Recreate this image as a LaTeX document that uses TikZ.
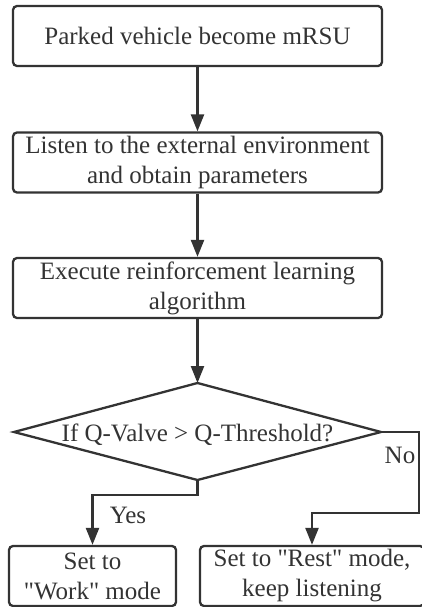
\documentclass[tikz,border=0pt]{standalone}
\usepackage{fontspec}
\setmainfont{Liberation Serif}[Ligatures=TeXOff]
\usetikzlibrary{arrows.meta}
\definecolor{ink}{HTML}{333333}
\begin{document}
\begin{tikzpicture}[x=1pt,y=-1pt,
  line/.style={draw=ink, line width=2.3pt},
  txt/.style={font=\fontsize{25}{30}\selectfont, text=ink},
  box/.style={line, txt, rounded corners=4pt, minimum height=60pt, align=center, inner sep=0pt},
  arr/.style={line, -{Triangle[length=17pt,width=13pt]}}]
\useasboundingbox (0,0) rectangle (422,607);
\node[box, minimum width=369pt] (b1) at (197.5,36) {Parked vehicle become mRSU};
\node[box, minimum width=369pt] (b2) at (197.5,162.5) {Listen to the external environment\\and obtain parameters};
\node[box, minimum width=369pt] (b3) at (197.5,288) {Execute reinforcement learning\\algorithm};
\coordinate (dt) at (197.5,383);
\coordinate (dr) at (381,432);
\coordinate (db) at (197.5,480);
\coordinate (dl) at (14,432);
\draw[line] (dt) -- (dr) -- (db) -- (dl) -- cycle;
\node[txt, anchor=base] (q) at (197.5,441) {If Q-Valve > Q-Threshold?};
\node[box, minimum width=167pt] (b4) at (92.5,576) {Set to\\"Work" mode};
\node[box, minimum width=224pt] (b5) at (312,576) {Set to "Rest" mode,\\keep listening};
\draw[arr] (b1) -- (b2);
\draw[arr] (b2) -- (b3);
\draw[arr] (b3) -- (dt);
\coordinate (yA) at (197.5,495);
\draw[arr] (db) -- (yA) -| (b4.north);
\coordinate (nA) at (419,432);
\coordinate (nB) at (419,513);
\draw[arr] (dr) -- (nA) -- (nB) -| (b5.north);
\node[txt] (yes) at (128,515) {Yes};
\node[txt] (no) at (400,455) {No};
\end{tikzpicture}
\end{document}
